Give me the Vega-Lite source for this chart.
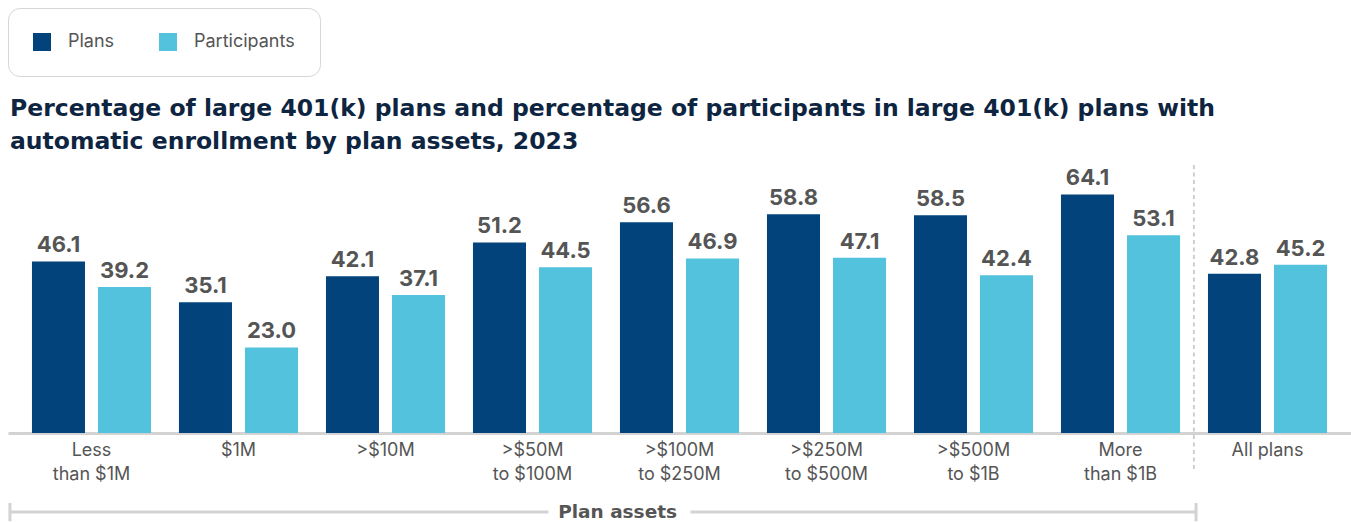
{
  "$schema": "https://vega.github.io/schema/vega-lite/v6.json",
  "width": 1343,
  "height": 268,
  "autosize": {"type": "none"},
  "padding": {"left": 8, "top": 165, "right": 0, "bottom": 89},
  "background": "white",
  "config": {"view": {"stroke": null}, "font": "Inter"},
  "title": {
    "text": ["Percentage of large 401(k) plans and percentage of participants in large 401(k) plans with", "automatic enrollment by plan assets, 2023"],
    "anchor": "start", "frame": "group", "font": "DejaVu Sans", "fontSize": 23.5, "fontWeight": "bold",
    "color": "#0e2541", "lineHeight": 33, "offset": 10, "dx": 2, "dy": 156
  },
  "data": {"values": [
    {"category": "Less than $1M", "series": "Plans", "value": 46.1},
    {"category": "Less than $1M", "series": "Participants", "value": 39.2},
    {"category": "$1M", "series": "Plans", "value": 35.1},
    {"category": "$1M", "series": "Participants", "value": 23.0},
    {"category": ">$10M", "series": "Plans", "value": 42.1},
    {"category": ">$10M", "series": "Participants", "value": 37.1},
    {"category": ">$50M to $100M", "series": "Plans", "value": 51.2},
    {"category": ">$50M to $100M", "series": "Participants", "value": 44.5},
    {"category": ">$100M to $250M", "series": "Plans", "value": 56.6},
    {"category": ">$100M to $250M", "series": "Participants", "value": 46.9},
    {"category": ">$250M to $500M", "series": "Plans", "value": 58.8},
    {"category": ">$250M to $500M", "series": "Participants", "value": 47.1},
    {"category": ">$500M to $1B", "series": "Plans", "value": 58.5},
    {"category": ">$500M to $1B", "series": "Participants", "value": 42.4},
    {"category": "More than $1B", "series": "Plans", "value": 64.1},
    {"category": "More than $1B", "series": "Participants", "value": 53.1},
    {"category": "All plans", "series": "Plans", "value": 42.8},
    {"category": "All plans", "series": "Participants", "value": 45.2}
  ]},
  "encoding": {
    "x": {
      "field": "category", "type": "nominal",
      "sort": ["Less than $1M", "$1M", ">$10M", ">$50M to $100M", ">$100M to $250M", ">$250M to $500M", ">$500M to $1B", "More than $1B", "All plans"],
      "scale": {"paddingInner": 0.19, "paddingOuter": 0.163},
      "axis": {
        "title": null, "ticks": false, "labelAngle": 0, "labelFontSize": 18, "labelColor": "#555555",
        "labelLineHeight": 24, "labelPadding": 8, "labelOverlap": false, "labelFont": "Inter",
        "domainColor": "#d3d3d3", "domainWidth": 3, "labelBaseline": "top",
        "labelExpr": "indexof(datum.label,' to ')>0 ? [substring(datum.label,0,indexof(datum.label,' to ')), substring(datum.label,indexof(datum.label,' to ')+1)] : (indexof(datum.label,' than ')>0 ? [substring(datum.label,0,indexof(datum.label,' than ')), substring(datum.label,indexof(datum.label,' than ')+1)] : datum.label)"
      }
    }
  },
  "layer": [
    {
      "mark": {"type": "bar"},
      "encoding": {
        "xOffset": {"field": "series", "type": "nominal", "sort": ["Plans", "Participants"], "scale": {"paddingInner": 0.197, "paddingOuter": 0}},
        "y": {"field": "value", "type": "quantitative", "scale": {"domain": [0, 72], "nice": false}, "axis": null},
        "color": {
          "field": "series", "type": "nominal", "sort": ["Plans", "Participants"],
          "scale": {"domain": ["Plans", "Participants"], "range": ["#01437a", "#53c2dc"]},
          "legend": {
            "orient": "none", "legendX": 0, "legendY": -157, "direction": "horizontal", "title": null,
            "strokeColor": "#d6d6d6", "cornerRadius": 12, "padding": 25,
            "symbolType": "square", "symbolSize": 324, "symbolStrokeWidth": 0,
            "labelFontSize": 18, "labelColor": "#555555", "labelOffset": 17, "columnPadding": 44, "labelFont": "Inter"
          }
        }
      }
    },
    {
      "mark": {"type": "text", "fontSize": 22, "fontWeight": "bold", "color": "#555555", "baseline": "alphabetic", "dy": -9, "font": "Inter"},
      "encoding": {
        "xOffset": {"field": "series", "type": "nominal", "sort": ["Plans", "Participants"]},
        "y": {"field": "value", "type": "quantitative"},
        "text": {"field": "value", "type": "quantitative", "format": ".1f"}
      }
    },
    {
      "data": {"values": [{}]},
      "mark": {"type": "rule", "color": "#cfcfcf", "strokeWidth": 2, "strokeDash": [4, 3.5]},
      "encoding": {
        "x": {"datum": "All plans", "bandPosition": -0.118},
        "y": {"datum": 72},
        "y2": {"datum": -10.5}
      }
    },
    {
      "data": {"values": [{}]},
      "mark": {"type": "rule", "color": "#d3d3d3", "strokeWidth": 3},
      "encoding": {
        "x": {"datum": "Less than $1M", "bandPosition": -0.185},
        "x2": {"datum": ">$50M to $100M", "bandPosition": 0.634},
        "y": {"datum": -21.2}
      }
    },
    {
      "data": {"values": [{}]},
      "mark": {"type": "rule", "color": "#d3d3d3", "strokeWidth": 3},
      "encoding": {
        "x": {"datum": ">$100M to $250M", "bandPosition": 0.592},
        "x2": {"datum": "All plans", "bandPosition": -0.1},
        "y": {"datum": -21.2}
      }
    },
    {
      "data": {"values": [{}]},
      "mark": {"type": "rule", "color": "#d3d3d3", "strokeWidth": 3},
      "encoding": {
        "x": {"datum": "Less than $1M", "bandPosition": -0.185},
        "y": {"datum": -18.8},
        "y2": {"datum": -23.7}
      }
    },
    {
      "data": {"values": [{}]},
      "mark": {"type": "rule", "color": "#d3d3d3", "strokeWidth": 3},
      "encoding": {
        "x": {"datum": "All plans", "bandPosition": -0.1},
        "y": {"datum": -18.8},
        "y2": {"datum": -23.7}
      }
    },
    {
      "data": {"values": [{}]},
      "mark": {"type": "text", "fontSize": 18.5, "fontWeight": "bold", "color": "#555555", "baseline": "middle", "align": "center", "font": "DejaVu Sans"},
      "encoding": {
        "x": {"datum": ">$100M to $250M", "bandPosition": -0.02},
        "y": {"datum": -21.2},
        "text": {"value": "Plan assets"}
      }
    }
  ]
}
